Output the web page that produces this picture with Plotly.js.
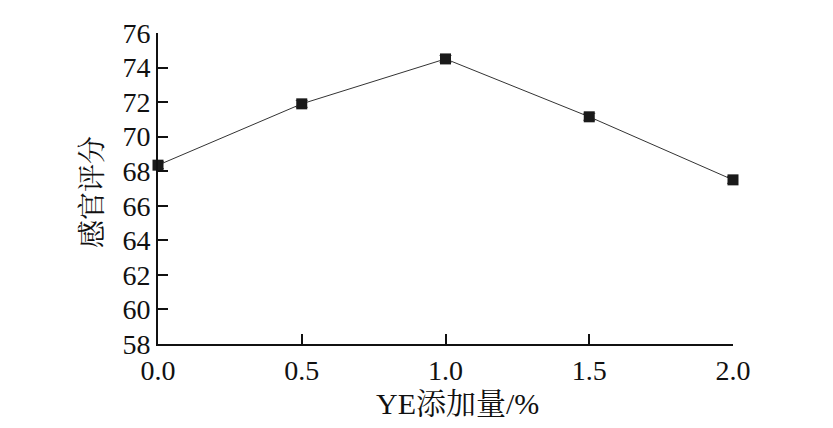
<!DOCTYPE html>
<html>
<head>
<meta charset="utf-8">
<script src="https://cdn.plot.ly/plotly-3.0.1.min.js"></script>
<style>html,body{margin:0;padding:0;background:#fff;}#chart{width:833px;height:428px;}</style>
</head>
<body>
<div id="chart"></div>
<script>
const ye = [0.0, 0.5, 1.0, 1.5, 2.0];
const score = [68.35, 71.9, 74.5, 71.15, 67.5];
const err = [0.2, 0.2, 0.2, 0.2, 0.2];
const yTicks = [58, 60, 62, 64, 66, 68, 70, 72, 74, 76];
const xTicks = [0.0, 0.5, 1.0, 1.5, 2.0];
const xTickText = ['0.0', '0.5', '1.0', '1.5', '2.0'];
const xTitle = 'YE添加量/%';
const yTitle = '感官评分';

const serif = 'Liberation Serif, Times New Roman, Noto Serif CJK SC, Noto Sans CJK SC, serif';

const trace = {
  x: ye, y: score,
  type: 'scatter', mode: 'lines+markers',
  line: {color: '#333', width: 1},
  marker: {symbol: 'square', size: 11, color: '#1a1a1a'},
  error_y: {type: 'data', array: err, visible: true, color: '#555', thickness: 1, width: 6},
  cliponaxis: false,
  showlegend: false
};

const layout = {
  width: 833, height: 428,
  margin: {l: 158, r: 100, t: 33, b: 84},
  paper_bgcolor: '#fff', plot_bgcolor: '#fff',
  font: {family: serif, color: '#111', size: 28},
  xaxis: {
    range: [0, 2], tickvals: xTicks, ticktext: xTickText,
    ticks: 'inside', ticklen: 10, tickwidth: 2, tickcolor: '#111',
    showline: true, linewidth: 2, linecolor: '#111', mirror: false,
    showgrid: false, zeroline: false,
    tickfont: {family: serif, size: 28}
  },
  yaxis: {
    range: [58, 76], tickvals: yTicks,
    ticks: 'inside', ticklen: 10, tickwidth: 2, tickcolor: '#111',
    showline: true, linewidth: 2, linecolor: '#111', mirror: false,
    showgrid: false, zeroline: false,
    tickfont: {family: serif, size: 28}
  },
  annotations: [
    {text: xTitle, xref: 'paper', yref: 'paper', x: 0.52, y: -0.19,
     xanchor: 'center', yanchor: 'middle', showarrow: false,
     font: {family: serif, size: 30, color: '#111'}},
    {text: yTitle, xref: 'paper', yref: 'paper', x: -0.113, y: 0.489,
     xanchor: 'center', yanchor: 'middle', showarrow: false, textangle: -90,
     font: {family: serif, size: 28, color: '#111'}}
  ]
};

Plotly.newPlot('chart', [trace], layout, {staticPlot: true, displayModeBar: false});
</script>
</body>
</html>
